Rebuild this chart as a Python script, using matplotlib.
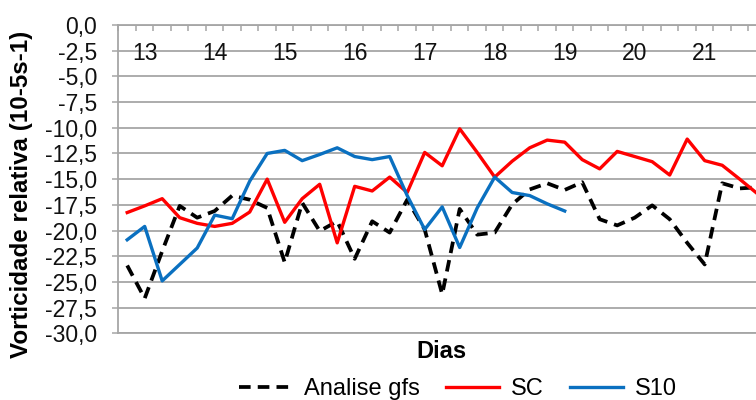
import matplotlib
matplotlib.use('Agg')
import matplotlib.pyplot as plt
import numpy as np

plt.rcParams['font.family'] = ['Liberation Sans', 'DejaVu Sans']

# vorticidade relativa, 4 valores por dia (00, 06, 12, 18 UTC)
analise_gfs = [-23.4, -26.6, -22.0, -17.6, -18.75, -18.1, -16.6, -17.0, -17.8, -23.1,
               -17.3, -20.05, -19.1, -22.75, -19.1, -20.2, -17.0, -19.9, -26.2, -17.9,
               -20.4, -20.2, -17.45, -16.0, -15.4, -16.05, -15.3, -18.9, -19.5, -18.75,
               -17.55, -18.9, -21.2, -23.3, -15.4, -15.9, -15.8]
sc = [-18.25, -17.6, -16.9, -18.75, -19.3, -19.6, -19.3, -18.2, -15.0, -19.2,
      -16.9, -15.5, -21.2, -15.7, -16.15, -14.8, -16.3, -12.4, -13.7, -10.1,
      -12.4, -14.8, -13.25, -11.95, -11.2, -11.4, -13.1, -14.0, -12.3, -12.8,
      -13.3, -14.6, -11.1, -13.2, -13.65, -15.0, -16.4]
s10 = [-20.9, -19.6, -24.9, -23.3, -21.7, -18.5, -18.85, -15.2, -12.5, -12.2,
       -13.2, -12.6, -11.95, -12.8, -13.1, -12.8, -16.6, -19.9, -17.7, -21.65,
       -17.8, -14.8, -16.3, -16.6, -17.4, -18.1]
dias = ['13', '14', '15', '16', '17', '18', '19', '20', '21']

W, H = 756, 400
fig = plt.figure(figsize=(W / 100, H / 100), dpi=100)
# eixo continua alem da borda direita da figura
ax = fig.add_axes([118.45 / W, 1 - 333.3 / H, 700 / W, 308.3 / H])

grid_c = '#a6a6a6'
ax.set_xlim(-0.5, 39.5)
ax.set_ylim(-30, 0)

ax.plot(range(len(analise_gfs)), analise_gfs, color='black', lw=2.7,
        linestyle=(0, (3.1, 1.9)), label='Analise gfs', zorder=3)
ax.plot(range(len(sc)), sc, color='#ff0000', lw=2.4, label='SC', zorder=3)
ax.plot(range(len(s10)), s10, color='#0a70c0', lw=2.4, label='S10', zorder=3)

yt = np.arange(-30, 0.01, 2.5)
ax.set_yticks(yt)
ax.set_yticklabels([('%.1f' % v).replace('.', ',') for v in yt], fontsize=16.5, color='#111111')
ax.tick_params(axis='y', direction='out', length=4.3, width=1.1, color=grid_c, pad=11)
ax.grid(axis='y', color=grid_c, lw=1.3, zorder=0)

# marcas do eixo das categorias no topo (y = 0)
ax.xaxis.set_ticks_position('top')
ax.set_xticks(np.arange(0, 41) - 0.5)
ax.set_xticklabels([])
ax.tick_params(axis='x', direction='in', length=4.2, width=1.1, color=grid_c)

for k, d in enumerate(dias):
    ax.text(1 + 4 * k, -2.75, d, ha='center', va='center', fontsize=16.5, color='#111111', zorder=2)

for side in ['left', 'top', 'bottom']:
    ax.spines[side].set_color(grid_c)
    ax.spines[side].set_linewidth(1.3)
ax.spines['right'].set_visible(False)

fig.text(22 / W, 1 - 194 / H, 'Vorticidade relativa (10-5s-1)', rotation=90,
         ha='center', va='center', fontsize=17.4, fontweight='bold')
fig.text(441.7 / W, 1 - 351.5 / H, 'Dias', ha='center', va='center',
         fontsize=17, fontweight='bold')

fig.legend(loc='center', bbox_to_anchor=(458 / W, 1 - 389 / H), ncol=3, frameon=False,
           fontsize=17, handlelength=2.25, handletextpad=0.5, columnspacing=1.1)

fig.savefig('out.png', dpi=100)
